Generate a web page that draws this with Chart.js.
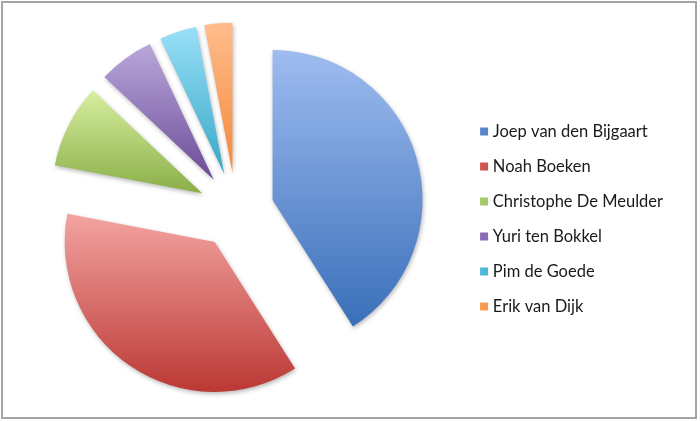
<!DOCTYPE html>
<html>
<head>
<meta charset="utf-8">
<script src="https://cdn.jsdelivr.net/npm/chart.js@4.4.0/dist/chart.umd.min.js"></script>
<style>
  html, body { margin: 0; padding: 0; background: #fff; }
  #wrap { position: relative; width: 700px; height: 421px; }
  #c { position: absolute; left: 0; top: 0; }
  #frame { position: absolute; left: 1px; top: 1px; width: 696px; height: 418px;
           box-sizing: border-box; border: 2px solid #a4a4a4; pointer-events: none; }
</style>
</head>
<body>
<div id="wrap">
  <canvas id="c" width="700" height="421"></canvas>
  <div id="frame"></div>
</div>
<script>
// data (share of each person, in percent)
var names = ["Joep van den Bijgaart", "Noah Boeken", "Christophe De Meulder", "Yuri ten Bokkel", "Pim de Goede", "Erik van Dijk"];
var values = [41, 37, 9, 6, 4, 3];

// colours: flat one for the legend, gradient top/bottom for the slices
var flatColors = ["#5a87cc", "#d0524e", "#a6c86a", "#8a6bb5", "#4fb8d6", "#f79a50"];
var topColors = ["#9ebcf0", "#f3a4a1", "#d6efa0", "#baa8da", "#98dff7", "#ffbd8d"];
var bottomColors = ["#3a6fb9", "#bb3834", "#8aae47", "#6b4b97", "#38a8c7", "#f2883a"];

var explodeDist = 38;

function inRange(a, s, e) {
    for (var k = -2; k <= 2; k++) {
        var b = a + k * 2 * Math.PI;
        if (b >= s && b <= e) return true;
    }
    return false;
}

// draws every slice pushed out along its middle, with a vertical gradient
var explodePlugin = {
    id: 'explode',
    beforeDatasetDraw: function(chart, args) {
        var ctx = chart.ctx;
        args.meta.data.forEach(function(arc, i) {
            var s = arc.startAngle, e = arc.endAngle, r = arc.outerRadius;
            var mid = (s + e) / 2;
            var ys = [arc.y, arc.y + r * Math.sin(s), arc.y + r * Math.sin(e)];
            if (inRange(Math.PI / 2, s, e)) ys.push(arc.y + r);
            if (inRange(-Math.PI / 2, s, e)) ys.push(arc.y - r);
            var g = ctx.createLinearGradient(0, Math.min.apply(null, ys), 0, Math.max.apply(null, ys));
            g.addColorStop(0, topColors[i]);
            g.addColorStop(1, bottomColors[i]);

            ctx.save();
            ctx.translate(Math.cos(mid) * explodeDist, Math.sin(mid) * explodeDist);
            ctx.shadowColor = 'rgba(0,0,0,0.28)';
            ctx.shadowBlur = 4;
            ctx.shadowOffsetX = 1;
            ctx.shadowOffsetY = 2;
            var saved = arc.options;
            arc.options = Object.assign({}, saved, { backgroundColor: g });
            arc.draw(ctx);
            arc.options = saved;
            ctx.restore();
        });
        return false;
    }
};

new Chart(document.getElementById("c"), {
    type: 'pie',
    data: {
        labels: names,
        datasets: [{
            data: values,
            backgroundColor: flatColors,
            borderWidth: 0
        }]
    },
    options: {
        responsive: false,
        animation: false,
        radius: 150,
        layout: {
            padding: { left: 7, right: 27, top: 10, bottom: 10 }
        },
        plugins: {
            tooltip: { enabled: false },
            legend: {
                position: 'right',
                align: 'center',
                title: {
                    display: true,
                    text: ' ',
                    font: { size: 10, lineHeight: 1 },
                    padding: { top: 3.5, bottom: 3.5 }
                },
                labels: {
                    usePointStyle: true,
                    pointStyle: 'rect',
                    boxWidth: 1,
                    boxHeight: 8,
                    padding: 18.5,
                    color: '#1a1a1a',
                    font: { family: 'Lato', size: 16.5 }
                }
            }
        }
    },
    plugins: [explodePlugin]
});
</script>
</body>
</html>
